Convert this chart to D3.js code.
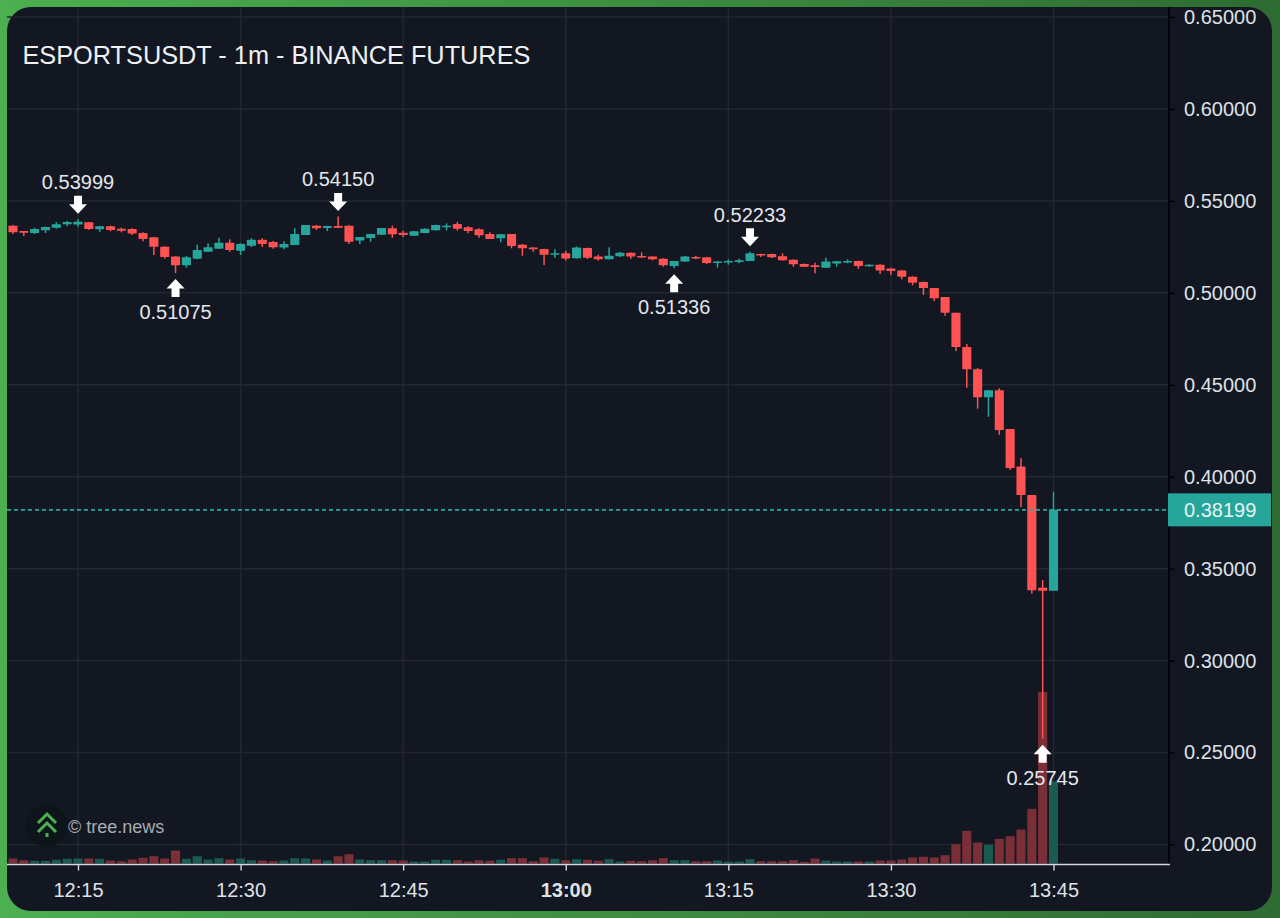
<!DOCTYPE html>
<html><head><meta charset="utf-8">
<script src="https://cdn.jsdelivr.net/npm/d3@7"></script>
<style>
html,body{margin:0;padding:0;width:1280px;height:918px;overflow:hidden;background:#3c8c40}
svg{display:block}
text{font-family:"Liberation Sans",Arial,sans-serif}
</style></head><body>
<svg id="c" width="1280" height="918"></svg>
<script>
const title = "ESPORTSUSDT - 1m - BINANCE FUTURES";
const priceTicks = [0.65,0.60,0.55,0.50,0.45,0.40,0.35,0.30,0.25,0.20];
const startMinute = "12:09";
const timeTicks = ["12:15","12:30","12:45","13:00","13:15","13:30","13:45"];
const lastPrice = 0.38199;
const opens = [.5365,.5336,.5325,.5340,.5354,.5373,.5371,.5384,.5346,.5362,.5349,.5347,.5325,.5302,.5251,.5197,.5150,.5186,.5224,.5240,.5273,.5229,.5256,.5289,.5277,.5246,.5260,.5315,.5365,.5353,.5364,.5365,.5284,.5298,.5316,.5351,.5327,.5311,.5325,.5340,.5358,.5374,.5356,.5346,.5320,.5297,.5320,.5262,.5246,.5238,.5210,.5215,.5188,.5244,.5197,.5182,.5199,.5218,.5200,.5197,.5186,.5146,.5171,.5195,.5193,.5166,.5166,.5168,.5173,.5211,.5211,.5199,.5180,.5157,.5150,.5137,.5159,.5168,.5173,.5144,.5153,.5133,.5122,.5088,.5059,.5026,.4977,.4892,.4705,.4584,.4432,.4470,.4259,.4056,.3900,.3396,.3380];
const highs = [.5369,.5336,.5354,.5360,.5385,.5391,.53999,.5385,.5364,.5365,.5354,.5351,.5329,.5304,.5253,.5199,.5200,.5262,.5269,.5300,.5291,.5269,.5297,.5297,.5282,.5280,.5351,.5369,.5369,.5365,.54150,.5367,.5304,.5321,.5353,.5365,.5338,.5336,.5351,.5371,.5378,.5385,.5362,.5351,.5329,.5320,.5320,.5266,.5248,.5240,.5237,.5229,.5252,.5246,.5207,.5248,.5222,.5220,.5220,.5199,.5188,.5175,.5200,.5202,.5195,.5173,.5182,.5186,.52233,.5213,.5213,.5215,.5182,.5159,.5164,.5191,.5173,.5182,.5175,.5155,.5155,.5137,.5124,.5090,.5061,.5026,.4977,.4892,.4722,.4591,.4472,.4481,.4259,.4100,.3900,.3438,.3918];
const lows = [.5320,.5309,.5320,.5325,.5349,.5362,.5360,.5343,.5331,.5335,.5329,.5315,.5280,.5206,.5186,.51075,.5137,.5182,.5224,.5240,.5224,.5206,.5249,.5249,.5240,.5237,.5260,.5315,.5342,.5336,.5353,.5266,.5266,.5278,.5315,.5300,.5304,.5309,.5324,.5338,.5340,.5338,.5324,.5300,.5293,.5275,.5242,.5202,.5224,.5151,.5191,.5176,.5186,.5184,.5175,.5182,.5195,.5186,.5189,.5177,.5142,.51336,.5168,.5182,.5157,.5137,.5153,.5161,.5173,.5195,.5189,.5175,.5142,.5140,.5106,.5135,.5142,.5161,.5131,.5142,.5102,.5097,.5074,.5041,.4988,.4956,.4876,.4684,.4484,.4370,.4326,.4228,.4036,.3836,.3365,.25745,.3380];
const closes = [.5329,.5327,.5347,.5358,.5373,.5385,.5387,.5347,.5362,.5342,.5338,.5322,.5293,.5251,.5195,.5150,.5193,.5233,.5248,.5273,.5233,.5266,.5289,.5266,.5248,.5266,.5320,.5369,.5351,.5364,.5354,.5278,.5304,.5320,.5353,.5318,.5315,.5335,.5349,.5369,.5365,.5349,.5336,.5313,.5293,.5318,.5255,.5242,.5237,.5207,.5215,.5187,.5246,.5191,.5182,.5202,.5218,.5197,.5193,.5182,.5150,.5173,.5197,.5188,.5162,.5170,.5173,.5177,.5215,.5206,.5193,.5177,.5155,.5142,.5140,.5170,.5172,.5173,.5146,.5153,.5122,.5119,.5088,.5055,.5026,.4970,.4892,.4705,.4584,.4432,.4470,.4254,.4047,.3900,.3383,.3380,.38199];
const volumes = [5,3.3,2.7,2.7,3.7,4.7,5,5,4.7,3,2.3,4,5.7,7.3,5,13,4.7,7.3,4,5.3,4,5,3.3,3,2.3,3,5.3,5,4,3,7.3,9.3,4,3.3,3.3,3.3,3,2,2,3.7,3.7,3.3,2,3.3,2.7,3.7,5.3,5.3,2.3,6,4.7,3.3,4.3,3.7,2.7,4.3,2,2.7,2.3,3.3,5.3,3.3,3.3,2.3,2.3,3,2,2,4.3,2.3,2.3,2.3,3.3,1.7,5,3,2,2,2,2,3,3,4,6,6.7,6,8.3,19.3,32.7,21,18.7,24.7,27.3,34,54.7,171.6,82.3];
const markerTimes = ["12:15","12:24","12:39","13:10","13:17","13:44"];
const markerPrices = [0.53999,0.51075,0.54150,0.51336,0.52233,0.25745];
const markerSides = ["above","below","above","below","above","below"];

const toDate = s => { const [h,m] = s.split(":").map(Number); return new Date(Date.UTC(2025,0,1,h,m)); };
const svg = d3.select("#c");
const defs = svg.append("defs");
const grad = defs.append("linearGradient").attr("id","bg").attr("x1","0").attr("x2","1").attr("y1","0").attr("y2","0");
grad.append("stop").attr("offset","0").attr("stop-color","#4caf50");
grad.append("stop").attr("offset","1").attr("stop-color","#2e6b32");
defs.append("clipPath").attr("id","pane").append("rect").attr("x",7).attr("y",7).attr("width",1162).attr("height",857);

svg.append("rect").attr("width",1280).attr("height",918).attr("fill","url(#bg)");
svg.append("rect").attr("x",7).attr("y",7).attr("width",1265).attr("height",904).attr("rx",24).attr("fill","#131722");

const x = d3.scaleUtc().domain([toDate("12:15"),toDate("13:45")]).range([78,1053.5]);
const y = d3.scaleLinear().domain([0.65,0.20]).range([17,844.5]);
const vy = d3.scaleLinear().domain([0,d3.max(volumes)]).range([863.5,692]);
const times = opens.map((_,i)=>new Date(+toDate(startMinute)+i*60000));
const step = x(times[1])-x(times[0]);
const bw = step*0.84;
const up = "#26a69a", down = "#ff5252";
const upVol = "#1b5a53", downVol = "#7a2f36";

// grid
const g = svg.append("g");
g.selectAll("line.h").data(priceTicks).join("line").attr("class","h")
 .attr("x1",7).attr("x2",1169).attr("y1",d=>y(d)).attr("y2",d=>y(d)).attr("stroke","#232732").attr("stroke-width",1.5);
g.selectAll("line.v").data(timeTicks).join("line").attr("class","v")
 .attr("x1",d=>x(toDate(d))).attr("x2",d=>x(toDate(d))).attr("y1",7).attr("y2",864).attr("stroke","#232732").attr("stroke-width",1.5);

// volume
const plot = svg.append("g").attr("clip-path","url(#pane)");
plot.selectAll("rect.vol").data(volumes).join("rect").attr("class","vol")
 .attr("x",(d,i)=>x(times[i])-bw/2).attr("width",bw)
 .attr("y",d=>vy(d)).attr("height",d=>vy(0)-vy(d))
 .attr("fill",(d,i)=>closes[i]>=opens[i]?upVol:downVol);

// candles
plot.selectAll("line.wick").data(opens).join("line").attr("class","wick")
 .attr("x1",(d,i)=>x(times[i])).attr("x2",(d,i)=>x(times[i]))
 .attr("y1",(d,i)=>y(highs[i])).attr("y2",(d,i)=>y(lows[i]))
 .attr("stroke",(d,i)=>closes[i]>=opens[i]?up:down).attr("stroke-width",1.5);
plot.selectAll("rect.body").data(opens).join("rect").attr("class","body")
 .attr("x",(d,i)=>x(times[i])-bw/2).attr("width",bw)
 .attr("y",(d,i)=>y(Math.max(opens[i],closes[i])))
 .attr("height",(d,i)=>Math.max(1.5,Math.abs(y(opens[i])-y(closes[i]))))
 .attr("rx",0.6)
 .attr("fill",(d,i)=>closes[i]>=opens[i]?up:down);

// last price line
svg.append("line").attr("x1",7).attr("x2",1176).attr("y1",y(lastPrice)).attr("y2",y(lastPrice))
 .attr("stroke","#29a89b").attr("stroke-width",1.6).attr("stroke-dasharray","4 3");

// markers
const arrow = "M0,0 L9,9.5 L4,9.5 L4,18 L-4,18 L-4,9.5 L-9,9.5 Z";
const mk = svg.append("g").selectAll("g").data(markerTimes).join("g");
mk.append("path").attr("d",arrow).attr("fill","#fff")
 .attr("transform",(d,i)=>{
   const px=x(toDate(d)), py=y(markerPrices[i]);
   return markerSides[i]==="above"
     ? `translate(${px},${py-5.5}) scale(1,-1)`
     : `translate(${px},${py+6})`;
 });
mk.append("text").attr("text-anchor","middle").attr("font-size",20).attr("fill","#e4e6ea")
 .attr("x",d=>x(toDate(d)))
 .attr("y",(d,i)=>y(markerPrices[i])+(markerSides[i]==="above"?-37.2:39))
 .attr("dominant-baseline","central")
 .text((d,i)=>markerPrices[i].toFixed(5));

// axes
const ax = svg.append("g").attr("transform","translate(1169,0)")
 .call(d3.axisRight(y).tickValues(priceTicks).tickSize(6).tickPadding(9).tickFormat(d=>d.toFixed(5)));
ax.select(".domain").attr("d","M0,7V864").attr("stroke","#000").attr("stroke-width",1.5);
ax.selectAll(".tick line").attr("stroke","#000").attr("stroke-width",1.2);
ax.selectAll("text").attr("font-size",20).attr("fill","#dfe1e5").attr("font-family","Liberation Sans");

const bx = svg.append("g").attr("transform","translate(0,864.5)")
 .call(d3.axisBottom(x).tickValues(timeTicks.map(toDate)).tickSize(6).tickPadding(12.5).tickFormat(d3.utcFormat("%H:%M")));
bx.select(".domain").attr("d","M7,0H1170").attr("stroke","#d6d8dc").attr("stroke-width",1.6);
bx.selectAll(".tick line").attr("stroke","#d6d8dc").attr("stroke-width",1.4);
bx.selectAll("text").attr("font-size",20).attr("fill","#dfe1e5").attr("font-family","Liberation Sans")
 .attr("font-weight",d=>d3.utcFormat("%H:%M")(d)==="13:00"?"bold":"normal");

// last price tag
svg.append("rect").attr("x",1168).attr("y",y(lastPrice)-16.5).attr("width",103).attr("height",33).attr("fill",up);
svg.append("text").attr("x",1184).attr("y",y(lastPrice)+0.5).attr("dominant-baseline","central")
 .attr("font-size",20).attr("fill","#e6f5f3").text(lastPrice.toFixed(5));

// title
svg.append("text").attr("x",22.5).attr("y",55).attr("dominant-baseline","central")
 .attr("font-size",25.3).attr("fill","#eef0f2").text(title);

// watermark
const logo = svg.append("g").attr("transform","translate(47,826)");
logo.append("circle").attr("r",21).attr("fill","#0e151a");
logo.append("path").attr("d","M-9,-3 L0,-12 L9,-3 M-9,6 L0,-3 L9,6").attr("fill","none").attr("stroke","#4caf50").attr("stroke-width",3);
logo.append("rect").attr("x",-1.5).attr("y",7).attr("width",3).attr("height",4).attr("fill","#4caf50");
svg.append("text").attr("x",68).attr("y",827).attr("dominant-baseline","central")
 .attr("font-size",18).attr("fill","#a9acb2").text("© tree.news");
</script>
</body></html>
